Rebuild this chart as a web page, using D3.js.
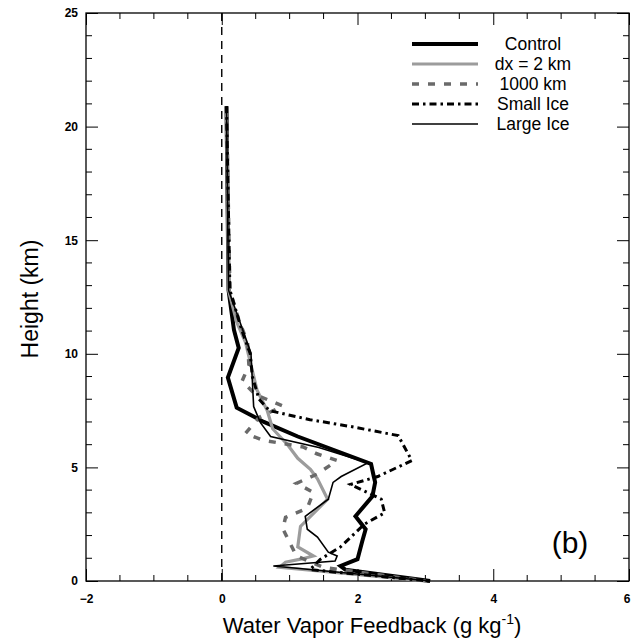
<!DOCTYPE html>
<html>
<head>
<meta charset="utf-8">
<script src="https://cdn.jsdelivr.net/npm/d3@7"></script>
<style>
body{margin:0;background:#fff;}
svg{display:block;}
text{font-family:"Liberation Sans",Arial,sans-serif;}
</style>
</head>
<body>
<svg id="chart" width="631" height="644"></svg>
<script>
// ---- data (height km, feedback g/kg) ----
const seriesNames = ["Control", "dx = 2 km", "1000 km", "Small Ice", "Large Ice"];
const panelLabel = "(b)";

const controlH = [20.9, 12.8, 11.05, 10.26, 8.95, 7.63, 7.0, 6.36, 5.15, 4.6, 4.34, 3.73, 2.85, 2.28, 1.75, 0.96, 0.66, 0.5, 0.0];
const controlX = [0.07, 0.1, 0.18, 0.25, 0.09, 0.22, 0.62, 1.12, 2.2, 2.24, 2.26, 2.22, 1.97, 2.12, 2.07, 2.0, 1.75, 1.82, 3.07];

const dx2H = [20.9, 12.8, 11.4, 10.5, 8.4, 7.5, 6.7, 6.0, 5.4, 4.9, 4.5, 3.6, 2.4, 1.5, 1.1, 0.96, 0.83, 0.6, 0.0];
const dx2X = [0.07, 0.1, 0.22, 0.35, 0.52, 0.67, 0.75, 0.97, 1.12, 1.31, 1.41, 1.56, 1.16, 1.12, 1.35, 1.16, 0.94, 0.85, 3.0];

const km1000H = [20.9, 12.8, 11.5, 10.5, 9.5, 8.8, 8.2, 7.7, 7.2, 6.5, 6.2, 5.9, 5.6, 5.3, 4.7, 4.3, 3.9, 3.2, 2.8, 2.3, 1.1, 0.6, 0.0];
const km1000X = [0.07, 0.12, 0.25, 0.38, 0.4, 0.3, 0.5, 0.9, 0.55, 0.35, 0.6, 1.2, 1.4, 1.7, 1.4, 1.1, 1.35, 1.26, 0.94, 0.9, 1.1, 1.5, 3.0];

const smallH = [20.9, 12.8, 11.0, 10.0, 9.0, 8.0, 7.5, 7.1, 6.8, 6.4, 5.3, 4.6, 4.25, 3.6, 3.0, 2.5, 1.5, 0.95, 0.5, 0.0];
const smallX = [0.07, 0.12, 0.3, 0.42, 0.45, 0.55, 0.7, 1.3, 1.9, 2.6, 2.8, 2.3, 1.9, 2.35, 2.4, 2.1, 1.75, 1.45, 1.3, 3.05];

const largeH = [20.9, 12.8, 11.05, 10.04, 7.68, 6.97, 6.36, 5.88, 5.2, 4.6, 4.34, 3.6, 2.85, 2.28, 1.93, 1.27, 1.1, 0.88, 0.66, 0.0];
const largeX = [0.07, 0.1, 0.31, 0.43, 0.47, 0.57, 0.72, 1.43, 2.15, 1.76, 1.64, 1.57, 1.23, 1.26, 1.41, 1.57, 1.70, 1.67, 0.76, 3.07];

const xTicks = [-2, 0, 2, 4, 6];
const yTicks = [0, 5, 10, 15, 20, 25];

// ---- layout ----
const svg = d3.select("#chart");
const L = 86, R = 629, T = 13, B = 581;
const x = d3.scaleLinear().domain([-2, 6]).range([L, R]);
const y = d3.scaleLinear().domain([0, 25]).range([B, T]);

const styles = [
  {stroke:"#000", w:4, dash:null},
  {stroke:"#9c9c9c", w:3.2, dash:null},
  {stroke:"#6a6a6a", w:3.5, dash:"7,9"},
  {stroke:"#000", w:3, dash:"7,4,2.5,4"},
  {stroke:"#000", w:1.6, dash:null}
];
const dataSets = [
  [controlH, controlX], [dx2H, dx2X], [km1000H, km1000X], [smallH, smallX], [largeH, largeX]
];

// frame
svg.append("rect").attr("x", L).attr("y", T).attr("width", R - L).attr("height", B - T)
  .attr("fill", "none").attr("stroke", "#000").attr("stroke-width", 1.3);

// axes with inward ticks
const xAxisB = d3.axisBottom(x).tickValues(xTicks).tickSize(-12).tickFormat(d => d < 0 ? "\u2212" + Math.abs(d) : d).tickPadding(18);
const gxb = svg.append("g").attr("transform", `translate(0,${B})`).call(xAxisB);
const xMinor = d3.range(-2, 6.01, 0.5).filter(v => !xTicks.includes(v));
gxb.selectAll(".minor").data(xMinor).enter().append("line").attr("class","minor")
  .attr("x1", d => x(d)).attr("x2", d => x(d)).attr("y1", 0).attr("y2", -6).attr("stroke", "#000");
const gxt = svg.append("g").attr("transform", `translate(0,${T})`)
  .call(d3.axisTop(x).tickValues(xTicks).tickSize(-12).tickFormat(""));
gxt.selectAll(".minor").data(xMinor).enter().append("line").attr("class","minor")
  .attr("x1", d => x(d)).attr("x2", d => x(d)).attr("y1", 0).attr("y2", 6).attr("stroke", "#000");

const yMinor = d3.range(0, 25.01, 1).filter(v => !yTicks.includes(v));
const gyl = svg.append("g").attr("transform", `translate(${L},0)`)
  .call(d3.axisLeft(y).tickValues(yTicks).tickSize(-12).tickPadding(8));
gyl.selectAll(".minor").data(yMinor).enter().append("line").attr("class","minor")
  .attr("y1", d => y(d)).attr("y2", d => y(d)).attr("x1", 0).attr("x2", 6).attr("stroke", "#000");
const gyr = svg.append("g").attr("transform", `translate(${R},0)`)
  .call(d3.axisRight(y).tickValues(yTicks).tickSize(-12).tickFormat(""));
gyr.selectAll(".minor").data(yMinor).enter().append("line").attr("class","minor")
  .attr("y1", d => y(d)).attr("y2", d => y(d)).attr("x1", 0).attr("x2", -6).attr("stroke", "#000");

[gxb, gxt, gyl, gyr].forEach(g => {
  g.select(".domain").remove();
  g.selectAll("text").attr("font-size", 12).attr("font-weight", "bold").attr("fill", "#000")
    .style("font-family", "'Liberation Sans', Arial, sans-serif");
});
gxb.selectAll(".tick text").attr("dy", "0.35em");
gxb.selectAll(".tick text").filter(d => d === 6).attr("text-anchor", "end").attr("dx", 1);

// zero line
svg.append("line").attr("x1", x(0)).attr("x2", x(0)).attr("y1", y(0)).attr("y2", y(25))
  .attr("stroke", "#000").attr("stroke-width", 1.4).attr("stroke-dasharray", "8,6");

// series
const line = d3.line().x(d => x(d[1])).y(d => y(d[0]));
dataSets.forEach((ds, i) => {
  const pts = ds[0].map((h, k) => [h, ds[1][k]]);
  const s = styles[i];
  svg.append("path").datum(pts).attr("d", line).attr("fill", "none")
    .attr("stroke", s.stroke).attr("stroke-width", s.w)
    .attr("stroke-dasharray", s.dash).attr("stroke-linejoin", "miter");
});

// legend
const legY = [44, 64, 84, 104, 124];
const lg = svg.append("g");
seriesNames.forEach((n, i) => {
  const s = styles[i];
  lg.append("line").attr("x1", 412).attr("x2", 478).attr("y1", legY[i]).attr("y2", legY[i])
    .attr("stroke", s.stroke).attr("stroke-width", s.w).attr("stroke-dasharray", s.dash);
  lg.append("text").attr("x", 533).attr("y", legY[i]).attr("dy", "0.35em")
    .attr("text-anchor", "middle").attr("font-size", 17.5).text(n);
});

// panel label
svg.append("text").attr("x", 570).attr("y", 553).attr("text-anchor", "middle")
  .attr("font-size", 30).text(panelLabel);

// axis titles
svg.append("text").attr("x", 372).attr("y", 633).attr("text-anchor", "middle")
  .attr("font-size", 22).html('Water Vapor Feedback (g kg<tspan dy="-9" font-size="14">-1</tspan><tspan dy="9">)</tspan>');
svg.append("text").attr("transform", `translate(38,${(T + B) / 2 + 2}) rotate(-90)`)
  .attr("text-anchor", "middle").attr("font-size", 23).text("Height (km)");
</script>
</body>
</html>
